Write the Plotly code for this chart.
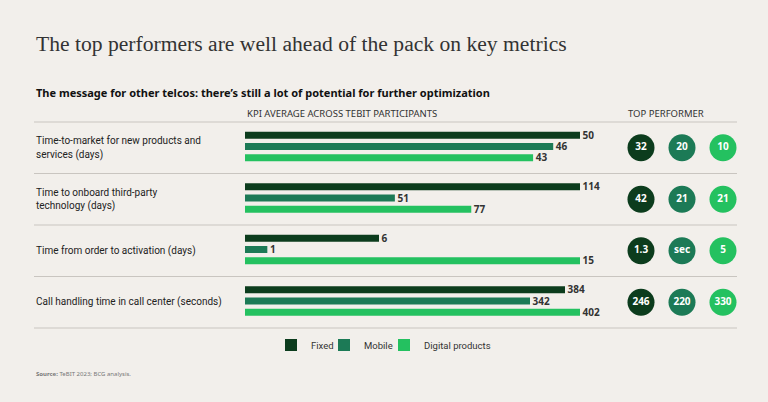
import plotly.graph_objects as go

# ---------------- data ----------------
metrics = [
    "Time-to-market for new products and<br>services (days)",
    "Time to onboard third-party<br>technology (days)",
    "Time from order to activation (days)",
    "Call handling time in call center (seconds)",
]
series = ["Fixed", "Mobile", "Digital products"]
fixed_vals = [50, 114, 6, 384]
mobile_vals = [46, 51, 1, 342]
digital_vals = [43, 77, 15, 402]
top_fixed = ["32", "42", "1.3", "246"]
top_mobile = ["20", "21", "sec", "220"]
top_digital = ["10", "21", "5", "330"]

colors = ["#0c3c1d", "#1c7a56", "#24c160"]
BG = "#f2efeb"
W, H = 768, 402

def px(x):
    return x / W

def py(y):
    return 1 - y / H

fig = go.Figure()

row_tops = [122, 173.5, 225, 276.5]
row_h = 51.5
vals = [fixed_vals, mobile_vals, digital_vals]
tops = [top_fixed, top_mobile, top_digital]
legend_names = ["legend", "legend2", "legend3"]
legend_left = [271, 324, 384]

layout_axes = {}
for i in range(4):
    ax = "" if i == 0 else str(i + 1)
    rmax = max(v[i] for v in vals)
    for s in range(3):
        fig.add_trace(go.Bar(
            x=[vals[s][i]], y=[s], orientation="h",
            marker=dict(color=colors[s], line=dict(width=0)),
            width=0.62, name=series[s], legendgroup=series[s],
            legend=legend_names[s],
            showlegend=(i == 0), xaxis="x" + ax, yaxis="y" + ax,
            hoverinfo="skip",
        ))
    fig.add_trace(go.Scatter(
        x=[vals[s][i] for s in range(3)], y=[0.1, 1.1, 2.1], mode="text",
        text=[" " + str(vals[s][i]) for s in range(3)],
        textposition="middle right",
        textfont=dict(family="Noto Sans", size=10, color="#333333", weight="bold"),
        showlegend=False, xaxis="x" + ax, yaxis="y" + ax, cliponaxis=False,
        hoverinfo="skip",
    ))
    top = row_tops[i]
    layout_axes["xaxis" + ax] = dict(domain=[px(245), px(580)], range=[0, rmax],
                                      visible=False, fixedrange=True)
    layout_axes["yaxis" + ax] = dict(domain=[py(top + 41.5), py(top + 7.5)],
                                      range=[2.5, -0.5], visible=False, fixedrange=True)
    lines = metrics[i].split("<br>")
    cy = top + row_h / 2
    offs = [0] if len(lines) == 1 else [-7, 7]
    for line, o in zip(lines, offs):
        fig.add_annotation(
            x=px(34), y=py(cy + o), xref="paper", yref="paper",
            text=line, showarrow=False, xanchor="left", yanchor="middle",
            align="left", font=dict(family="Roboto", size=10, color="#222222"),
        )

# top performer circles
for s in range(3):
    fig.add_trace(go.Scatter(
        x=[s] * 4, y=[0, 1, 2, 3], mode="markers+text",
        text=tops[s], textposition="middle center",
        marker=dict(size=27, color=colors[s], line=dict(width=0)),
        textfont=dict(family="Noto Sans", size=10, color="white", weight="bold"),
        showlegend=False, xaxis="x5", yaxis="y5", hoverinfo="skip",
    ))
layout_axes["xaxis5"] = dict(domain=[px(620.5), px(743.5)], range=[-0.5, 2.5],
                              visible=False, fixedrange=True)
layout_axes["yaxis5"] = dict(domain=[py(328), py(122)], range=[3.5, -0.5],
                              visible=False, fixedrange=True)

# separator lines
shapes = []
for yy in [122, 173.5, 225, 276.5, 328]:
    shapes.append(dict(type="line", xref="paper", yref="paper",
                       x0=px(34), x1=px(737), y0=py(yy), y1=py(yy),
                       line=dict(color="#c9c5c0", width=1)))

annotations = [
    dict(x=px(34), y=py(44), text="The top performers are well ahead of the pack on key metrics",
         font=dict(family="Liberation Serif", size=21.6, color="#333333")),
    dict(x=px(34), y=py(92), text="<b>The message for other telcos: there’s still a lot of potential for further optimization</b>",
         font=dict(family="Noto Sans", size=11, color="#111111")),
    dict(x=px(245), y=py(114), text="KPI AVERAGE ACROSS TEBIT PARTICIPANTS",
         font=dict(family="Noto Sans", size=9.5, color="#333333")),
    dict(x=px(626), y=py(114), text="TOP PERFORMER",
         font=dict(family="Noto Sans", size=9.5, color="#333333")),
    dict(x=px(34), y=py(374), text="<b>Source:</b> TeBIT 2023; BCG analysis.",
         font=dict(family="Noto Sans", size=6, color="#777777")),
]
for a in annotations:
    a.update(xref="paper", yref="paper", showarrow=False, xanchor="left", yanchor="middle")
    fig.add_annotation(**a)

legends = {}
for s in range(3):
    legends[legend_names[s]] = dict(
        orientation="h", x=px(legend_left[s]), xanchor="left",
        y=py(345), yanchor="middle",
        font=dict(family="Roboto", size=9.5, color="#333333"),
        bgcolor="rgba(0,0,0,0)", itemclick=False, itemdoubleclick=False,
        itemwidth=30,
    )

fig.update_layout(
    width=W, height=H, margin=dict(l=0, r=0, t=0, b=0),
    paper_bgcolor=BG, plot_bgcolor=BG,
    shapes=shapes, barmode="overlay",
    **legends,
    **layout_axes,
)

fig.write_html("out.html", config={"displayModeBar": False},
               post_script="document.body.style.margin='0';")
